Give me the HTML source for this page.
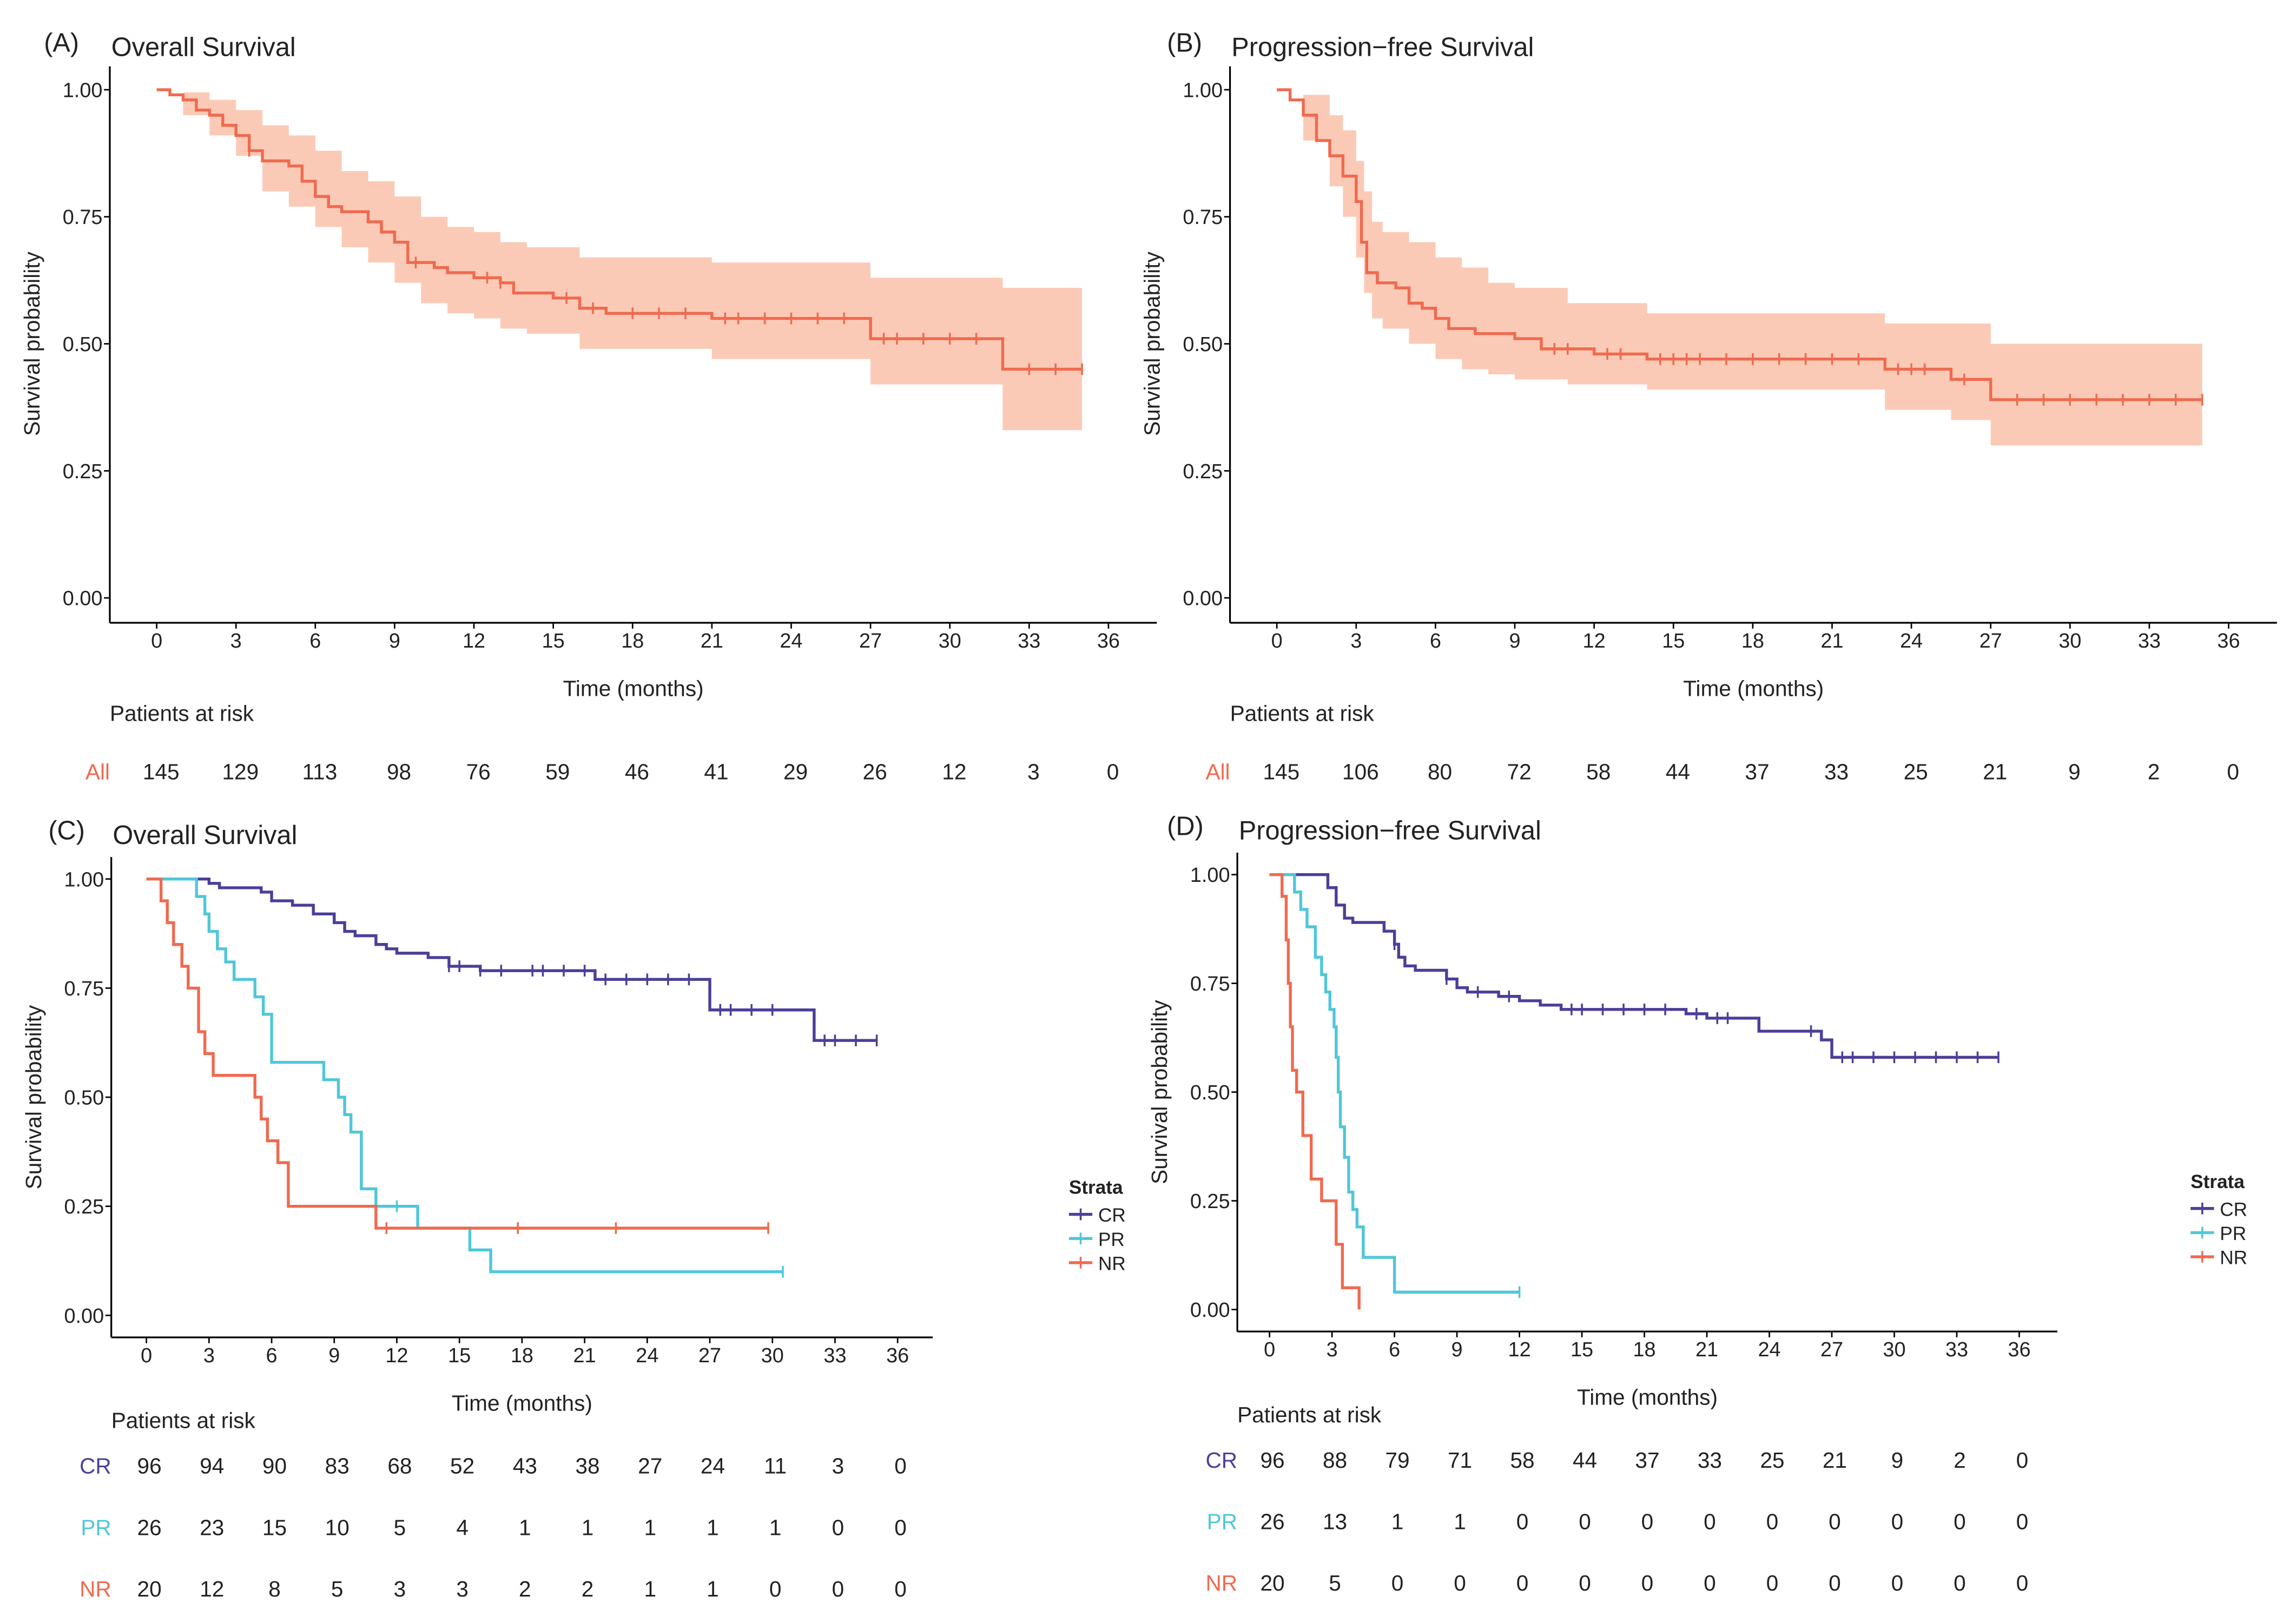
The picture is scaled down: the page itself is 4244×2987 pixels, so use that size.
<!DOCTYPE html>
<html><head><meta charset="utf-8"><style>
html,body{margin:0;padding:0;background:#fff}
svg{display:block}
text{font-family:"Liberation Sans","DejaVu Sans",sans-serif;fill:#222}
</style></head><body>
<svg id="fig" width="4244" height="2987" viewBox="0 0 1568 1103" xmlns="http://www.w3.org/2000/svg"></svg>
<script>
// ---- data ----
const xTicks=[0,3,6,9,12,15,18,21,24,27,30,33,36];
const yTicks=[0,0.25,0.5,0.75,1];
const yTickLabels=["0.00","0.25","0.50","0.75","1.00"];
const osAllT=[0,0.5,1,1.5,2,2.5,3,3.5,4,5,5.5,6,6.5,7,8,8.5,9,9.5,10.5,11,12,13,13.5,15,16,17,21,27,32];
const osAllS=[1,.99,.98,.96,.95,.93,.91,.88,.86,.85,.82,.79,.77,.76,.74,.72,.70,.66,.65,.64,.63,.62,.60,.59,.57,.56,.55,.51,.45];
const osAllEnd=35;
const osBandT=[0,1,2,3,4,5,6,7,8,9,10,11,12,13,14,16,21,27,32];
const osUpper=[1,.995,.98,.96,.93,.91,.88,.84,.82,.79,.75,.73,.72,.70,.69,.67,.66,.63,.61];
const osLower=[1,.95,.91,.87,.80,.77,.73,.69,.66,.62,.58,.56,.55,.53,.52,.49,.47,.42,.33];
const osCens=[3.5,9.8,12.5,13,15.5,16.5,18,19,20,21.5,22,23,24,25,26,27.5,28,29,30,31,33,34,35];
const pfsAllT=[0,0.5,1,1.5,2,2.5,3,3.2,3.4,3.8,4.5,5,5.5,6,6.5,7.5,9,10,12,14,23,25.5,27];
const pfsAllS=[1,.98,.95,.90,.87,.83,.78,.70,.64,.62,.61,.58,.57,.55,.53,.52,.51,.49,.48,.47,.45,.43,.39];
const pfsAllEnd=35;
const pfsBandT=[0,1,2,2.5,3,3.3,3.6,4,5,6,7,8,9,11,14,23,25.5,27];
const pfsUpper=[1,.99,.95,.92,.86,.80,.74,.72,.70,.67,.65,.62,.61,.58,.56,.54,.54,.50];
const pfsLower=[1,.90,.81,.75,.67,.60,.55,.53,.50,.47,.45,.44,.43,.42,.41,.37,.35,.30];
const pfsCens=[10.5,11,12.5,13,14.5,15,15.5,16,17,18,19,20,21,22,23.5,24,24.5,26,28,29,30,31,32,33,34,35];
const osCrT=[0,3,3.5,5.5,6,7,8,9,9.5,10,11,11.5,12,13.5,14.5,16,21.5,27,32];
const osCrS=[1,.99,.98,.97,.95,.94,.92,.90,.88,.87,.85,.84,.83,.82,.80,.79,.77,.70,.63];
const osPrT=[0,2.4,2.8,3,3.4,3.8,4.2,5.2,5.6,6,8.5,9.2,9.5,9.8,10.3,11,13,15.5,16.5];
const osPrS=[1,.96,.92,.88,.84,.81,.77,.73,.69,.58,.54,.50,.46,.42,.29,.25,.20,.15,.10];
const osNrT=[0,0.7,1,1.3,1.7,2,2.5,2.8,3.2,5.2,5.5,5.8,6.3,6.8,11];
const osNrS=[1,.95,.90,.85,.80,.75,.65,.60,.55,.50,.45,.40,.35,.25,.20];
const pfsCrT=[0,2.8,3.2,3.6,4,5.5,6,6.2,6.5,7,8.5,9,9.5,11,12,13,14,20,21,23.5,26.5,27];
const pfsCrS=[1,.97,.93,.90,.89,.87,.84,.81,.79,.78,.76,.74,.73,.72,.71,.70,.69,.68,.67,.64,.62,.58];
const pfsPrT=[0,1.2,1.5,1.8,2.2,2.5,2.7,2.9,3.1,3.2,3.3,3.4,3.6,3.8,4,4.2,4.5,6];
const pfsPrS=[1,.96,.92,.88,.81,.77,.73,.69,.65,.58,.50,.42,.35,.27,.23,.19,.12,.04];
const pfsNrT=[0,0.6,0.8,0.9,1,1.1,1.3,1.6,2,2.5,3.2,3.5,4.3];
const pfsNrS=[1,.95,.85,.75,.65,.55,.50,.40,.30,.25,.15,.05,0];
const riskA=[145,129,113,98,76,59,46,41,29,26,12,3,0];
const riskB=[145,106,80,72,58,44,37,33,25,21,9,2,0];
const riskCcr=[96,94,90,83,68,52,43,38,27,24,11,3,0];
const riskCpr=[26,23,15,10,5,4,1,1,1,1,1,0,0];
const riskCnr=[20,12,8,5,3,3,2,2,1,1,0,0,0];
const riskDcr=[96,88,79,71,58,44,37,33,25,21,9,2,0];
const riskDpr=[26,13,1,1,0,0,0,0,0,0,0,0,0];
const riskDnr=[20,5,0,0,0,0,0,0,0,0,0,0,0];

const RED="#ef6a4f",BAND="#fbcab6",BLUE="#4a3f98",CYAN="#4fc7d8";
const svg=document.getElementById('fig');const NS="http://www.w3.org/2000/svg";
function el(tag,attrs,txt){const e=document.createElementNS(NS,tag);for(const k in attrs)e.setAttribute(k,attrs[k]);if(txt!==undefined)e.textContent=txt;svg.appendChild(e);return e;}
function stepPath(T,S,end,sx,sy){let d=`M${sx(T[0])},${sy(S[0])}`;for(let i=1;i<T.length;i++){d+=`H${sx(T[i])}V${sy(S[i])}`;}d+=`H${sx(end)}`;return d;}
function survAt(T,S,t){let s=S[0];for(let i=0;i<T.length;i++)if(T[i]<=t)s=S[i];return s;}

function panel(p){
  const sx=t=>p.x0+(p.x36-p.x0)*t/36, sy=v=>p.y0+(p.y1-p.y0)*v;
  let e;
  e=el('text',{x:p.lx,y:p.ty,'font-size':18});e.textContent=p.letter;
  
  e=el('text',{x:p.ax+1,y:p.ty+3,'font-size':18},p.title);
  
  e=el('line',{x1:p.ax,y1:p.top,x2:p.ax,y2:p.axY,stroke:'#000','stroke-width':1.2});
  
  e=el('line',{x1:p.ax,y1:p.axY,x2:p.axR,y2:p.axY,stroke:'#000','stroke-width':1.2});
  
  yTicks.forEach((v,i)=>{el('line',{x1:p.ax-4,x2:p.ax,y1:sy(v),y2:sy(v),stroke:'#000'});
    e=el('text',{x:p.ax-5,y:sy(v)+5,'font-size':14,'text-anchor':'end'},yTickLabels[i]);
    });
  xTicks.forEach(t=>{el('line',{x1:sx(t),x2:sx(t),y1:p.axY,y2:p.axY+4,stroke:'#000'});
    e=el('text',{x:sx(t),y:p.axY+17,'font-size':14,'text-anchor':'middle'},String(t));
    });
  e=el('text',{x:p.ax-48,y:(sy(0)+sy(1))/2,'font-size':15,'text-anchor':'middle',transform:`rotate(-90 ${p.ax-48} ${(sy(0)+sy(1))/2})`},'Survival probability');
  
  e=el('text',{x:(p.ax+p.axR)/2,y:p.axY+50,'font-size':15,'text-anchor':'middle'},'Time (months)');
  
  if(p.band){const b=p.band;let up=`M${sx(b.T[0])},${sy(b.U[0])}`;for(let i=1;i<b.T.length;i++)up+=`H${sx(b.T[i])}V${sy(b.U[i])}`;up+=`H${sx(b.end)}`;
    let lo=`V${sy(b.L[b.L.length-1])}`;for(let i=b.T.length-1;i>0;i--)lo+=`H${sx(b.T[i])}V${sy(b.L[i-1])}`;lo+=`H${sx(b.T[0])}Z`;
    e=el('path',{d:up+lo,fill:BAND,stroke:'none'});}
  p.series.forEach(s=>{e=el('path',{d:stepPath(s.T,s.S,s.end,sx,sy),fill:'none',stroke:s.c,'stroke-width':2});
    
    (s.cens||[]).forEach(t=>{const y=sy(survAt(s.T,s.S,t));el('line',{x1:sx(t),x2:sx(t),y1:y-4,y2:y+4,stroke:s.c,'stroke-width':1.3});});});
  e=el('text',{x:p.ax,y:p.riskHead,'font-size':15},'Patients at risk');
  
  p.risk.forEach((r,ri)=>{const y=p.riskY[ri];
    e=el('text',{x:p.ax,y:y,'font-size':15,'text-anchor':'end',style:`fill:${r.c}`},r.label);
    
    r.v.forEach((v,i)=>{e=el('text',{x:sx(xTicks[i])+p.roff,y:y,'font-size':15,'text-anchor':'middle'},String(v));
      });});
  if(p.legend){const L=p.legend;e=el('text',{x:L.x,y:L.y,'font-size':13,'font-weight':'bold'},'Strata');
    
    [['CR',BLUE],['PR',CYAN],['NR',RED]].forEach((q,i)=>{const y=L.y+18+i*16.5;
      el('line',{x1:L.x,x2:L.x+16,y1:y-4,y2:y-4,stroke:q[1],'stroke-width':2});el('line',{x1:L.x+8,x2:L.x+8,y1:y-8,y2:y,stroke:q[1],'stroke-width':1.3});
      e=el('text',{x:L.x+20,y:y+1,'font-size':13},q[0]);});}
}
panel({letter:'(A)',title:'Overall Survival',lx:30,ty:35,ax:75,axR:790,top:45,axY:425,x0:107,x36:757,y0:408,y1:61,
  band:{T:osBandT,U:osUpper,L:osLower,end:35},series:[{name:'all',T:osAllT,S:osAllS,end:osAllEnd,c:RED,cens:osCens}],
  riskHead:492,riskY:[532],roff:3,risk:[{label:'All',c:RED,v:riskA}]});
panel({letter:'(B)',title:'Progression\u2212free Survival',lx:797,ty:35,ax:840,axR:1555,top:45,axY:425,x0:872,x36:1522,y0:408,y1:61,
  band:{T:pfsBandT,U:pfsUpper,L:pfsLower,end:35},series:[{name:'all',T:pfsAllT,S:pfsAllS,end:pfsAllEnd,c:RED,cens:pfsCens}],
  riskHead:492,riskY:[532],roff:3,risk:[{label:'All',c:RED,v:riskB}]});
panel({letter:'(C)',title:'Overall Survival',lx:33,ty:573,ax:76,axR:637,top:585,axY:913,x0:100,x36:613,y0:898,y1:600,
  series:[{name:'cr',T:osCrT,S:osCrS,end:35,c:BLUE,cens:[14.5,15,16,17,18.5,19,20,21,22,23,24,25,26,27.5,28,29,30,32.5,33,34,35]},
    {name:'pr',T:osPrT,S:osPrS,end:30.5,c:CYAN,cens:[12,30.5]},{name:'nr',T:osNrT,S:osNrS,end:29.8,c:RED,cens:[11.5,17.8,22.5,29.8]}],
  riskHead:975,riskY:[1006,1048,1090],roff:2,legend:{x:730,y:815},
  risk:[{label:'CR',c:BLUE,v:riskCcr},{label:'PR',c:CYAN,v:riskCpr},{label:'NR',c:RED,v:riskCnr}]});
panel({letter:'(D)',title:'Progression\u2212free Survival',lx:797,ty:570,ax:845,axR:1405,top:582,axY:909,x0:867,x36:1379,y0:894,y1:597,
  series:[{name:'cr',T:pfsCrT,S:pfsCrS,end:35,c:BLUE,cens:[6,8.5,10,11.5,14.5,15,16,17,18,19,20.5,21.5,22,26,27.5,28,29,30,31,32,33,34,35]},
    {name:'pr',T:pfsPrT,S:pfsPrS,end:12,c:CYAN,cens:[12]},{name:'nr',T:pfsNrT,S:pfsNrS,end:4.3,c:RED,cens:[]}],
  riskHead:971,riskY:[1002,1044,1086],roff:2,legend:{x:1496,y:811},
  risk:[{label:'CR',c:BLUE,v:riskDcr},{label:'PR',c:CYAN,v:riskDpr},{label:'NR',c:RED,v:riskDnr}]});
</script>
</body></html>
